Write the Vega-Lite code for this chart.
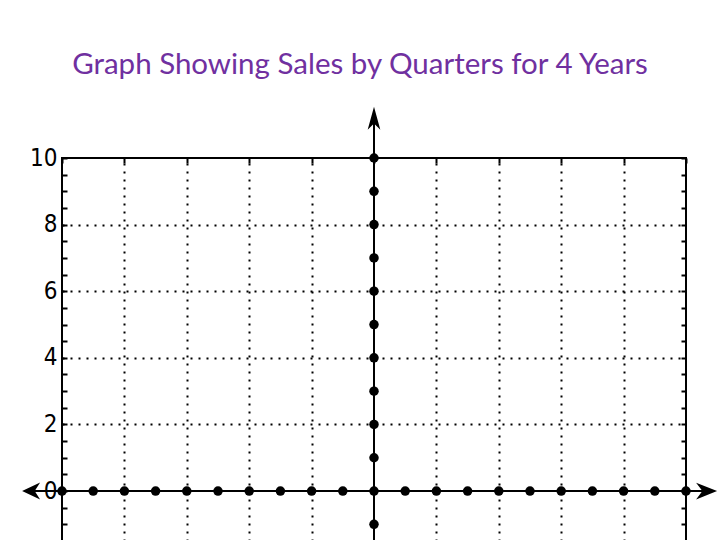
{
  "$schema": "https://vega.github.io/schema/vega-lite/v6.json",
  "width": 624,
  "height": 383,
  "autosize": {"type": "none"},
  "padding": {"left": 62, "top": 158, "right": 34, "bottom": 0},
  "background": "white",
  "config": {"view": {"stroke": "black", "strokeWidth": 2}},
  "title": {
    "text": "Graph Showing Sales by Quarters for 4 Years",
    "font": "Lato",
    "fontSize": 29.5,
    "fontWeight": "normal",
    "color": "#7030A0",
    "anchor": "middle",
    "dx": -14,
    "offset": 26
  },
  "datasets": {
    "pts": [
      {"x": -10, "y": 0}, {"x": -9, "y": 0}, {"x": -8, "y": 0}, {"x": -7, "y": 0},
      {"x": -6, "y": 0}, {"x": -5, "y": 0}, {"x": -4, "y": 0}, {"x": -3, "y": 0},
      {"x": -2, "y": 0}, {"x": -1, "y": 0}, {"x": 0, "y": 0}, {"x": 1, "y": 0},
      {"x": 2, "y": 0}, {"x": 3, "y": 0}, {"x": 4, "y": 0}, {"x": 5, "y": 0},
      {"x": 6, "y": 0}, {"x": 7, "y": 0}, {"x": 8, "y": 0}, {"x": 9, "y": 0},
      {"x": 10, "y": 0},
      {"x": 0, "y": -1}, {"x": 0, "y": 1}, {"x": 0, "y": 2}, {"x": 0, "y": 3},
      {"x": 0, "y": 4}, {"x": 0, "y": 5}, {"x": 0, "y": 6}, {"x": 0, "y": 7},
      {"x": 0, "y": 8}, {"x": 0, "y": 9}, {"x": 0, "y": 10}
    ],
    "one": [{}]
  },
  "resolve": {"axis": {"y": "independent"}},
  "layer": [
    {
      "data": {"name": "one"},
      "mark": {"type": "rule", "color": "black", "strokeWidth": 2},
      "encoding": {
        "x": {"datum": -11},
        "x2": {"datum": 10.8},
        "y": {"datum": 0, "axis": null}
      }
    },
    {
      "data": {"name": "one"},
      "mark": {"type": "rule", "color": "black", "strokeWidth": 2},
      "encoding": {
        "x": {"datum": 0},
        "y": {
          "datum": -1.5,
          "axis": {
            "orient": "right", "title": null, "labels": false, "domain": false, "grid": false,
            "values": [-1.5,-1,-0.5,0,0.5,1,1.5,2,2.5,3,3.5,4,4.5,5,5.5,6,6.5,7,7.5,8,8.5,9,9.5,10],
            "tickSize": -5, "tickColor": "black", "tickWidth": 2
          }
        },
        "y2": {"datum": 11.1}
      }
    },
    {
      "data": {"name": "pts"},
      "mark": {"type": "point", "filled": true, "shape": "circle", "size": 90, "color": "black", "opacity": 1},
      "encoding": {
        "x": {
          "field": "x", "type": "quantitative",
          "scale": {"domain": [-10, 10], "nice": false, "zero": false},
          "axis": {
            "orient": "top", "title": null, "labels": false, "domain": false,
            "values": [-10,-9.5,-9,-8.5,-8,-7.5,-7,-6.5,-6,-5.5,-5,-4.5,-4,-3.5,-3,-2.5,-2,-1.5,-1,-0.5,0,0.5,1,1.5,2,2.5,3,3.5,4,4.5,5,5.5,6,6.5,7,7.5,8,8.5,9,9.5,10],
            "tickSize": -5, "tickColor": "black", "tickWidth": 2,
            "grid": true, "gridColor": "black", "gridWidth": 2, "gridDash": [2, 6],
            "gridOpacity": {"condition": {"test": "datum.value % 2 == 0 && datum.value != 0 && abs(datum.value) < 10", "value": 1}, "value": 0}
          }
        },
        "y": {
          "field": "y", "type": "quantitative",
          "scale": {"domain": [-1.5, 10], "nice": false, "zero": false},
          "axis": {
            "orient": "left", "title": null, "domain": false,
            "values": [-1.5,-1,-0.5,0,0.5,1,1.5,2,2.5,3,3.5,4,4.5,5,5.5,6,6.5,7,7.5,8,8.5,9,9.5,10],
            "labelExpr": "datum.value >= 0 && datum.value % 2 == 0 ? '' + datum.value : ''",
            "labelFont": "DejaVu Sans Condensed, DejaVu Sans, sans-serif",
            "labelFontSize": 24, "labelColor": "black", "labelPadding": 10,
            "tickSize": -5, "tickColor": "black", "tickWidth": 2,
            "grid": true, "gridColor": "black", "gridWidth": 2, "gridDash": [2, 6],
            "gridOpacity": {"condition": {"test": "datum.value % 2 == 0 && datum.value > 0 && datum.value < 10", "value": 1}, "value": 0}
          }
        }
      }
    },
    {
      "data": {"name": "one"},
      "mark": {"type": "point", "filled": true, "color": "black", "opacity": 1, "size": 324, "shape": "M -1 0 L 1 -0.95 L 0.4 0 L 1 0.95 Z"},
      "encoding": {"x": {"datum": -10.99}, "y": {"datum": 0, "axis": null}}
    },
    {
      "data": {"name": "one"},
      "mark": {"type": "point", "filled": true, "color": "black", "opacity": 1, "size": 441, "shape": "M 1 0 L -1 -0.8 L -0.4 0 L -1 0.8 Z"},
      "encoding": {"x": {"datum": 10.66}, "y": {"datum": 0, "axis": null}}
    },
    {
      "data": {"name": "one"},
      "mark": {"type": "point", "filled": true, "color": "black", "opacity": 1, "size": 529, "shape": "M 0 -1 L 0.55 1 L 0 0.45 L -0.55 1 Z"},
      "encoding": {"x": {"datum": 0}, "y": {"datum": 11.19, "axis": null}}
    }
  ]
}
